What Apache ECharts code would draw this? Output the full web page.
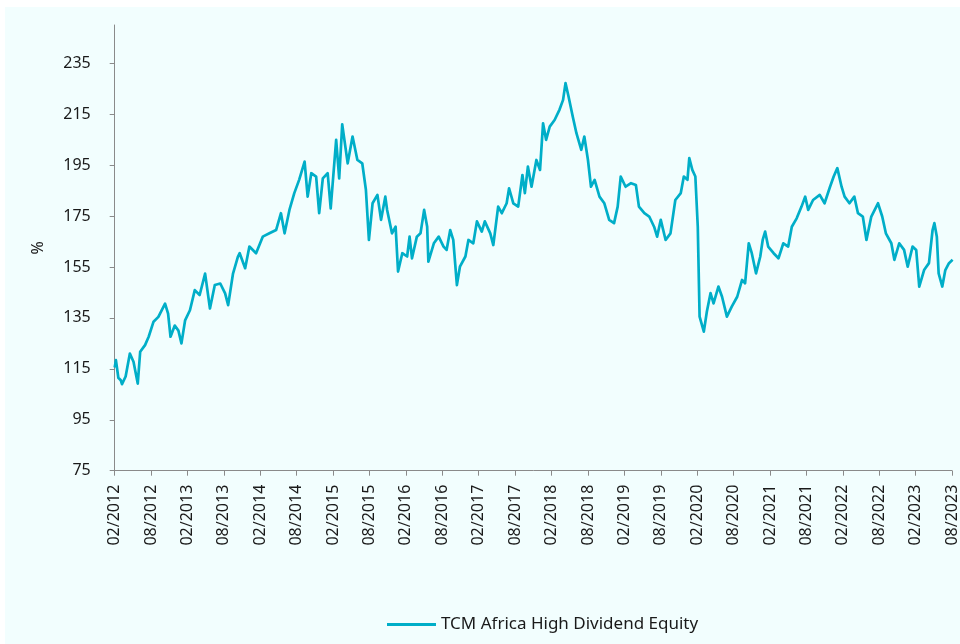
<!DOCTYPE html>
<html>
<head>
<meta charset="utf-8">
<script src="https://cdn.jsdelivr.net/npm/echarts@6/dist/echarts.min.js"></script>
<style>
  html, body { margin: 0; padding: 0; background: #ffffff; }
  #chart { position: absolute; left: 5px; top: 7px; width: 955px; height: 637px; background: #f2fefe; }
</style>
</head>
<body>
<div id="chart"></div>
<script>
// months elapsed since 02/2012
const monthsSinceStart = [
  0.0, 0.2, 0.6, 1.0, 1.2, 1.8, 2.5, 3.1, 3.8, 4.2, 5.0, 5.6, 6.4, 7.2, 8.3, 8.8, 9.2, 9.9, 10.5, 11.0,
  11.6, 12.4, 13.2, 14.0, 14.9, 15.7, 16.5, 17.4, 18.2, 18.7, 19.5, 20.3,
  20.6, 21.5, 22.2, 23.3, 24.4, 25.5, 26.6, 27.4, 28.0, 28.8, 29.6, 30.4, 31.3, 31.8, 32.4, 33.2, 33.7, 34.3,
  35.1, 35.6, 36.5, 37.0, 37.5, 38.4, 39.2, 40.0, 40.8, 41.4, 41.9, 42.5, 43.3, 43.9, 44.6,
  44.9, 45.7, 46.3, 46.7, 47.4, 48.2, 48.6, 49.0, 49.8, 50.4, 51.0, 51.5, 51.7, 52.6, 53.4, 54.2, 54.7, 55.3,
  55.8, 56.4, 56.9, 57.8, 58.3, 59.1, 59.7, 60.5, 61.0, 61.9, 62.4, 63.2, 63.8, 64.6, 65.0, 65.7,
  66.5, 67.2, 67.6, 68.1, 68.7, 69.5, 70.1, 70.6, 71.1, 71.7, 72.5, 73.3, 73.9, 74.3, 74.8, 75.5, 76.1, 76.9,
  77.4, 78.0, 78.5, 79.1, 79.9, 80.7, 81.5, 82.3, 82.9, 83.4, 84.2, 85.1, 85.9, 86.4, 87.3, 88.1, 88.9, 89.4,
  90.0, 90.8,
  91.6, 92.4, 93.3, 93.8, 94.4, 94.7, 95.2, 95.7, 96.1, 96.4, 97.1, 97.6, 98.2, 98.7, 99.5, 100.1, 100.9,
  101.7, 102.6, 103.4, 103.9, 104.5, 105.0, 105.7, 106.4, 106.8, 107.2, 107.7, 108.6, 109.4, 110.2, 111.0,
  111.6, 112.4, 113.2,
  113.8, 114.3, 115.1, 116.2, 117.0, 117.9, 118.5, 119.1, 119.8, 120.3, 121.1, 121.9, 122.5, 123.3, 123.9,
  124.7, 125.8, 126.5, 127.1, 128.0, 128.5, 129.3, 130.1, 130.7, 131.5, 132.1, 132.6, 133.4, 134.2, 134.8,
  135.1, 135.5, 135.8, 136.4, 136.9, 137.5, 138.1
];
const indexValues = [
  115.5, 118.4, 111.5, 110.5, 109.0, 112.0, 121.0, 117.8, 109.2, 121.7, 124.3, 127.6, 133.5, 135.4, 140.6, 136.7, 127.6, 132.0, 130.0, 125.0,
  134.0, 138.0, 145.9, 144.0, 152.4, 138.7, 147.9, 148.5, 144.6, 140.0, 152.4, 159.0,
  160.4, 154.5, 163.0, 160.4, 166.9, 168.2, 169.5, 176.1, 168.2, 177.4, 184.0, 189.2, 196.4, 182.6, 191.8, 190.5, 176.1, 189.8,
  191.8, 178.0, 204.9, 189.8, 211.0, 195.7, 206.2, 197.0, 195.7, 185.3, 165.6, 180.0, 183.3, 173.5, 182.6,
  177.4, 168.2, 170.8, 153.2, 160.4, 159.1, 166.9, 158.4, 166.9, 168.2, 177.4, 170.8, 157.1, 164.3, 166.9, 163.0, 161.7, 169.5,
  165.6, 147.9, 155.1, 159.1, 165.6, 164.3, 172.9, 168.9, 172.9, 168.2, 163.6, 178.7, 176.1, 180.0, 185.9, 180.0,
  178.7, 191.1, 184.0, 194.4, 186.5, 197.0, 193.1, 211.4, 204.9, 210.1, 212.7, 216.7, 220.6, 227.2, 221.9, 214.0, 207.5, 201.0,
  206.2, 197.0, 186.5, 189.2, 182.6, 180.0, 173.5, 172.2, 178.7, 190.5, 186.5, 187.9, 187.2, 178.7, 176.1, 174.8, 170.8, 166.9,
  173.5, 165.6,
  168.2, 181.3, 184.0, 190.5, 189.2, 197.7, 193.1, 190.5, 170.8, 135.5, 129.6, 137.5, 144.7, 140.7, 147.3, 143.3, 135.5,
  139.4, 143.3, 149.9, 148.6, 164.3, 160.4, 152.5, 159.1, 165.6, 168.9, 163.0, 160.4, 158.4, 164.3, 163.0,
  170.8, 174.1, 178.7,
  182.6, 177.4, 181.3, 183.3, 180.0, 186.5, 190.5, 193.8, 186.5, 182.6, 180.0, 182.6, 176.1, 174.8, 165.6,
  174.8, 180.0, 174.8, 168.2, 164.3, 157.8, 164.3, 161.7, 155.1, 163.0, 161.7, 147.3, 153.8, 156.5, 169.5,
  172.2, 166.9, 152.5, 147.3, 153.8, 156.5, 157.8
];
const yTickValues = [75, 95, 115, 135, 155, 175, 195, 215, 235];
const seriesName = 'TCM Africa High Dividend Equity';
const startYear = 2012, startMonth = 2;

function monthLabel(m) {
  const total = startYear * 12 + (startMonth - 1) + Math.round(m);
  const y = Math.floor(total / 12);
  const mo = total % 12 + 1;
  return (mo < 10 ? '0' + mo : '' + mo) + '/' + y;
}

const seriesData = monthsSinceStart.map((m, i) => [m, indexValues[i]]);

const chart = echarts.init(document.getElementById('chart'), null, { renderer: 'canvas' });
const axisGrey = '#8a8a8a';
const font = 'Noto Sans';
chart.setOption({
  animation: false,
  backgroundColor: 'transparent',
  grid: { left: 109.7, top: 18, right: 3, bottom: 173.3, containLabel: false },
  xAxis: {
    type: 'value',
    min: 0, max: 138, interval: 6,
    splitLine: { show: false },
    axisLine: { show: true, lineStyle: { color: axisGrey, width: 1 } },
    axisTick: { show: true, length: 5, inside: false, lineStyle: { color: axisGrey } },
    axisLabel: {
      rotate: 90, margin: 14, color: '#1a1a1a', fontFamily: font, fontSize: 16,
      showMinLabel: true, showMaxLabel: true, hideOverlap: false,
      formatter: v => monthLabel(v)
    }
  },
  yAxis: {
    type: 'value',
    min: 75, max: 250,
    name: '%', nameLocation: 'middle', nameRotate: 90, nameGap: 68,
    nameTextStyle: { color: '#1a1a1a', fontFamily: font, fontSize: 16 },
    splitLine: { show: false },
    axisLine: { show: true, lineStyle: { color: axisGrey, width: 1 } },
    axisTick: { show: true, length: 5, customValues: yTickValues, lineStyle: { color: axisGrey } },
    axisLabel: { customValues: yTickValues, margin: 24, color: '#1a1a1a', fontFamily: font, fontSize: 16 }
  },
  legend: {
    show: true, left: 377, top: 604,
    icon: 'rect', itemWidth: 49, itemHeight: 3, itemGap: 10,
    textStyle: { color: '#1a1a1a', fontFamily: font, fontSize: 17 },
    data: [seriesName]
  },
  series: [{
    name: seriesName, type: 'line', data: seriesData,
    symbol: 'none', showSymbol: false,
    lineStyle: { color: '#00aec8', width: 2.7, join: 'round' },
    itemStyle: { color: '#00aec8' }
  }]
});
</script>
</body>
</html>
